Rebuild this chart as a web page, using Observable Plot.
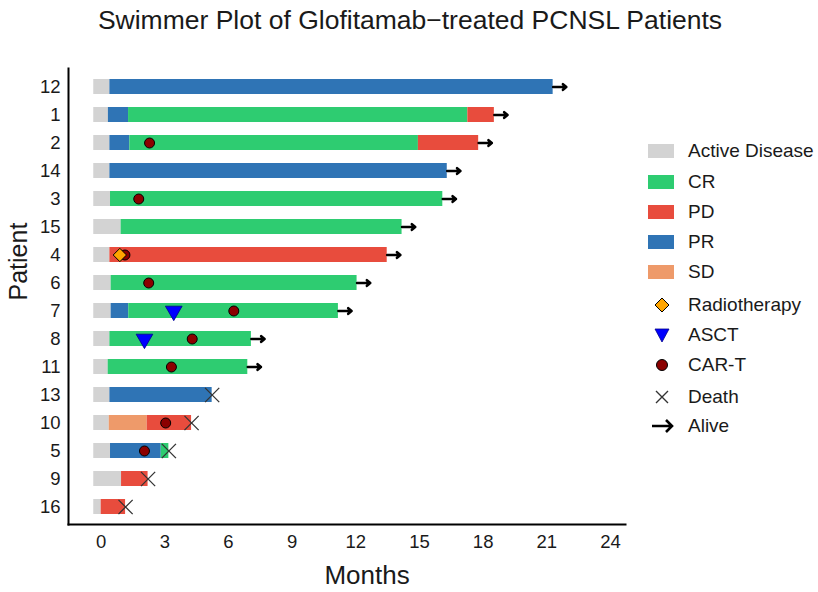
<!DOCTYPE html>
<html>
<head>
<meta charset="utf-8">
<script src="https://cdn.jsdelivr.net/npm/d3@7"></script>
<script src="https://cdn.jsdelivr.net/npm/@observablehq/plot@0.6"></script>
<style>
  html, body { margin: 0; padding: 0; background: #fff; }
  #page { position: relative; width: 818px; height: 592px; font-family: "Liberation Sans", Arial, sans-serif; color: #1a1a1a; }
  #title { height: 45px; line-height: 40px; text-align: center; font-size: 26.5px; padding-left: 2px; white-space: nowrap; }
  #legend { position: absolute; left: 0; top: 0; }
  .item { position: absolute; left: 640px; height: 24px; width: 178px; }
  .item svg { position: absolute; left: 0; top: 0; }
  .item span { position: absolute; left: 48px; top: 1px; font-size: 19px; line-height: 22px; white-space: nowrap; }
</style>
</head>
<body>
<div id="page">
  <div id="title">Swimmer Plot of Glofitamab−treated PCNSL Patients</div>
  <div id="chart"></div>
  <div id="legend"></div>
</div>
<script>
// Patients, top to bottom
const patients = ["12", "1", "2", "14", "3", "15", "4", "6", "7", "8", "11", "13", "10", "5", "9", "16"];

// Response status categories and their fills
const statuses = ["Active Disease", "CR", "PD", "PR", "SD"];
const statusColors = ["#D3D3D3", "#2ECC71", "#E84C3D", "#2F74B5", "#EE9A6A"];

// Month ticks
const monthTicks = [0, 3, 6, 9, 12, 15, 18, 21, 24];

// Response phases: [patient, status, start month, end month]
const phases = [
  ["12", "Active Disease", -0.35, 0.41], ["12", "PR", 0.41, 21.30],
  ["1", "Active Disease", -0.35, 0.34], ["1", "PR", 0.34, 1.29], ["1", "CR", 1.29, 17.28], ["1", "PD", 17.28, 18.53],
  ["2", "Active Disease", -0.35, 0.41], ["2", "PR", 0.41, 1.35], ["2", "CR", 1.35, 14.95], ["2", "PD", 14.95, 17.79],
  ["14", "Active Disease", -0.35, 0.41], ["14", "PR", 0.41, 16.31],
  ["3", "Active Disease", -0.35, 0.44], ["3", "CR", 0.44, 16.10],
  ["15", "Active Disease", -0.35, 0.94], ["15", "CR", 0.94, 14.18],
  ["4", "Active Disease", -0.35, 0.41], ["4", "PD", 0.41, 13.48],
  ["6", "Active Disease", -0.35, 0.47], ["6", "CR", 0.47, 12.06],
  ["7", "Active Disease", -0.35, 0.47], ["7", "PR", 0.47, 1.30], ["7", "CR", 1.30, 11.18],
  ["8", "Active Disease", -0.35, 0.41], ["8", "CR", 0.41, 7.08],
  ["11", "Active Disease", -0.35, 0.33], ["11", "CR", 0.33, 6.91],
  ["13", "Active Disease", -0.35, 0.41], ["13", "PR", 0.41, 5.23],
  ["10", "Active Disease", -0.35, 0.38], ["10", "SD", 0.38, 2.17], ["10", "PD", 2.17, 4.26],
  ["5", "Active Disease", -0.35, 0.44], ["5", "PR", 0.44, 2.83], ["5", "CR", 2.83, 3.19],
  ["9", "Active Disease", -0.35, 0.96], ["9", "PD", 0.96, 2.21],
  ["16", "Active Disease", -0.35, 0.00], ["16", "PD", 0.00, 1.15]
];

// Treatment events: [patient, month]
const radiotherapy = [["4", 0.88]];
const asct = [["7", 3.42], ["8", 2.04]];
const carT = [["2", 2.28], ["3", 1.77], ["4", 1.12], ["6", 2.24], ["7", 6.25], ["8", 4.29], ["11", 3.31], ["10", 3.04], ["5", 2.04]];

// Outcome at last follow-up
const deceased = ["13", "10", "5", "9", "16"];
const alive = ["12", "1", "2", "14", "3", "15", "4", "6", "7", "8", "11"];

// ---- tables for the marks ----
const phaseRows = phases.map(([patient, status, start, end]) => ({patient, status, start, end}));
const lastMonth = new Map(d3.rollups(phaseRows, v => d3.max(v, d => d.end), d => d.patient));
const ev = arr => arr.map(([patient, month]) => ({patient, month}));
const deathRows = deceased.map(p => ({patient: p, month: lastMonth.get(p)}));
const aliveRows = alive.map(p => ({patient: p, month: lastMonth.get(p)}));
const arrowLen = 0.62;

const chart = Plot.plot({
  width: 818,
  height: 547,
  marginLeft: 68,
  marginRight: 193,
  marginTop: 23,
  marginBottom: 68,
  style: {fontFamily: "'Liberation Sans', Arial, sans-serif", fontSize: "18.5px", color: "#1a1a1a", background: "white", overflow: "visible"},
  x: {domain: [-1.54, 24.71]},
  y: {domain: patients, paddingInner: 0.47, paddingOuter: 0.33},
  color: {domain: statuses, range: statusColors},
  marks: [
    Plot.barX(phaseRows, {x1: "start", x2: "end", y: "patient", fill: "status"}),
    Plot.arrow(aliveRows, {
      x1: "month", x2: d => d.month + arrowLen, y1: "patient", y2: "patient",
      stroke: "black", strokeWidth: 2.6, headLength: 8, headAngle: 80
    }),
    Plot.dot(ev(carT), {x: "month", y: "patient", r: 5, fill: "#8B0000", stroke: "black", strokeWidth: 1}),
    Plot.dot(ev(asct), {x: "month", y: "patient", symbol: "triangle", r: 6.2, rotate: 180, fill: "#0000FF", stroke: "#00008b", strokeWidth: 0.8}),
    Plot.dot(ev(radiotherapy), {x: "month", y: "patient", symbol: "diamond2", r: 6, fill: "#FFA500", stroke: "black", strokeWidth: 1}),
    Plot.dot(deathRows, {x: "month", y: "patient", symbol: "times", r: 6.5, stroke: "#333", strokeWidth: 1.3}),
    Plot.axisX({ticks: monthTicks, tickSize: 0, tickPadding: 10, label: null}),
    Plot.axisY({tickSize: 0, tickPadding: 8, label: null}),
    Plot.frame({anchor: "left", stroke: "black", strokeWidth: 2}),
    Plot.frame({anchor: "bottom", stroke: "black", strokeWidth: 2}),
    Plot.text(["Months"], {frameAnchor: "bottom", dy: 51, dx: 20, fontSize: 26, lineAnchor: "middle"}),
    Plot.text(["Patient"], {frameAnchor: "left", dx: -50, dy: 4, rotate: -90, fontSize: 25, lineAnchor: "middle"})
  ]
});
document.getElementById("chart").appendChild(chart);

// ---- legend ----
const legend = document.getElementById("legend");
const legendRows = [
  ...statuses.map((s, i) => ({label: s, kind: "swatch", color: statusColors[i]})),
  {label: "Radiotherapy", kind: "diamond"},
  {label: "ASCT", kind: "triangle"},
  {label: "CAR-T", kind: "circle"},
  {label: "Death", kind: "times"},
  {label: "Alive", kind: "arrow"}
];
const legendCenters = [151, 181.5, 211.5, 241.5, 271.5, 305, 335, 365, 396.5, 425.5];
legendRows.forEach((row, i) => {
  const div = document.createElement("div");
  div.className = "item";
  div.style.top = (legendCenters[i] - 12) + "px";
  let g = "";
  const cx = 22, cy = 12;
  switch (row.kind) {
    case "swatch": g = `<rect x="8" y="${cy - 7}" width="26" height="14" fill="${row.color}"/>`; break;
    case "diamond": g = `<path d="M${cx},${cy - 7}L${cx + 7},${cy}L${cx},${cy + 7}L${cx - 7},${cy}Z" fill="#FFA500" stroke="black" stroke-width="1"/>`; break;
    case "triangle": g = `<path d="M${cx - 7},${cy - 6}L${cx + 7},${cy - 6}L${cx},${cy + 7}Z" fill="#0000FF" stroke="#00008b" stroke-width="0.8"/>`; break;
    case "circle": g = `<circle cx="${cx}" cy="${cy}" r="5.5" fill="#8B0000" stroke="black" stroke-width="1"/>`; break;
    case "times": g = `<path d="M${cx - 6},${cy - 6}L${cx + 6},${cy + 6}M${cx + 6},${cy - 6}L${cx - 6},${cy + 6}" stroke="#333" stroke-width="1.4"/>`; break;
    case "arrow": g = `<path d="M${cx - 10},${cy}L${cx + 10},${cy}M${cx + 4},${cy - 6}L${cx + 10},${cy}L${cx + 4},${cy + 6}" fill="none" stroke="black" stroke-width="2.6"/>`; break;
  }
  div.innerHTML = `<svg width="44" height="24">${g}</svg><span>${row.label}</span>`;
  legend.appendChild(div);
});
</script>
</body>
</html>
